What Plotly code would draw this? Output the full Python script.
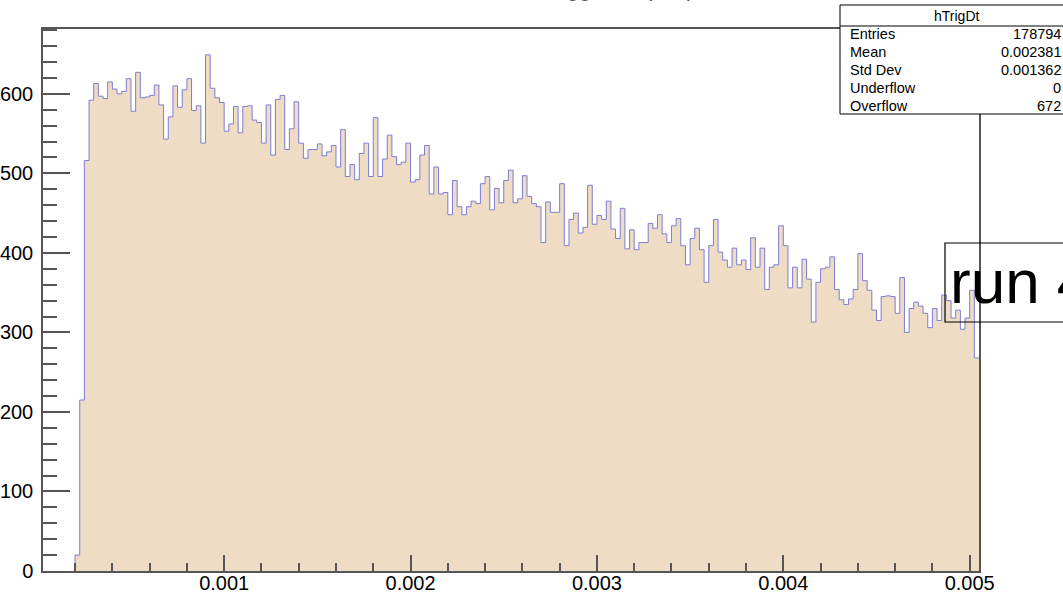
import numpy as np
import plotly.graph_objects as go

# ---- data (visible bin contents) ----
bin_start = 0.0002
bin_width = 0.000025
counts = [
    20, 215, 516, 592, 613, 597, 594, 615, 606, 600,
    603, 619, 578, 627, 595, 596, 598, 611, 586, 543,
    571, 610, 583, 605, 619, 579, 585, 538, 649, 607,
    595, 589, 553, 562, 584, 551, 584, 585, 567, 564,
    538, 586, 523, 593, 598, 530, 556, 590, 538, 519,
    530, 530, 537, 522, 527, 535, 508, 555, 496, 511,
    492, 525, 538, 496, 570, 496, 518, 548, 521, 511,
    514, 538, 489, 492, 523, 535, 474, 508, 474, 476,
    448, 491, 458, 448, 458, 465, 462, 487, 496, 454,
    481, 463, 491, 504, 463, 468, 497, 471, 462, 458,
    413, 464, 451, 451, 487, 409, 442, 450, 425, 432,
    485, 436, 447, 442, 465, 430, 418, 456, 405, 429,
    404, 413, 413, 437, 431, 448, 424, 413, 434, 443,
    409, 385, 418, 431, 404, 363, 409, 442, 401, 391,
    382, 406, 385, 391, 379, 419, 382, 406, 354, 382,
    385, 434, 409, 356, 382, 356, 392, 367, 313, 363,
    380, 382, 395, 354, 341, 335, 342, 354, 399, 365,
    353, 328, 315, 345, 346, 345, 324, 369, 300, 330,
    338, 333, 324, 306, 330, 315, 347, 340, 318, 328,
    304, 318, 353, 268,
]

x_tick_vals = [0.001, 0.002, 0.003, 0.004, 0.005]
x_tick_text = ["0.001", "0.002", "0.003", "0.004", "0.005"]
y_tick_vals = [0, 100, 200, 300, 400, 500, 600]
y_tick_text = ["0", "100", "200", "300", "400", "500", "600"]

stats_title = "hTrigDt"
stats_labels = ["Entries", "Mean", "Std Dev", "Underflow", "Overflow"]
stats_values = ["178794", "0.002381", "0.001362", "0", "672"]
run_label = "run 4"
hist_title = "Trigger Dt (sec)"

# ---- layout geometry (page pixels) ----
W, H = 1063, 597
L, R, T, B = 43, 84, 29, 26
PW, PH = W - L - R, H - T - B


def px(x):
    return (x - L) / PW


def py(y):
    return (H - B - y) / PH


edges = bin_start + bin_width * np.arange(len(counts) + 1)
xs = np.concatenate([[edges[0]], edges])
ys = np.concatenate([[0], counts, [counts[-1]]])

FILL = "#EEDDC4"
LINE = "#7D7DD6"
AX = "#555555"
FONT = "Liberation Sans, Arial, Helvetica, sans-serif"

fig = go.Figure()
fig.add_trace(go.Scatter(
    x=xs, y=ys, mode="lines", line=dict(shape="hv", color=LINE, width=1),
    fill="tozeroy", fillcolor=FILL, hoverinfo="skip", showlegend=False,
))

axis_common = dict(
    showgrid=False, zeroline=False, showline=True, mirror=True,
    linecolor=AX, linewidth=1.5, ticks="inside", tickcolor=AX, tickwidth=1.5,
    tickfont=dict(family=FONT, size=20, color="black"),
)

fig.update_xaxes(
    range=[0.000028, 0.00505], tickmode="array", tickvals=x_tick_vals,
    ticktext=x_tick_text, ticklen=16, ticklabelstandoff=-7,
    minor=dict(ticks="inside", dtick=0.0002, tick0=0, ticklen=8,
               tickcolor=AX, tickwidth=1.5),
    **axis_common,
)
fig.update_yaxes(
    range=[0, 681.5], tickmode="array", tickvals=y_tick_vals,
    ticktext=y_tick_text, ticklen=27, ticklabelstandoff=4,
    minor=dict(ticks="inside", dtick=20, tick0=0, ticklen=14,
               tickcolor=AX, tickwidth=1.5),
    **axis_common,
)

shapes = []
annotations = []

# stats box
sx0, sx1, sy0, sy1 = 840, 1075, 5, 114
shapes.append(dict(type="rect", xref="paper", yref="paper",
                   x0=px(sx0), x1=px(sx1), y0=py(sy1), y1=py(sy0),
                   line=dict(color="black", width=1), fillcolor="white",
                   layer="above"))
shapes.append(dict(type="line", xref="paper", yref="paper",
                   x0=px(sx0), x1=px(sx1), y0=py(26), y1=py(26),
                   line=dict(color="black", width=1), layer="above"))
annotations.append(dict(text=stats_title, xref="paper", yref="paper",
                        x=px(956), y=py(16), xanchor="center",
                        yanchor="middle", showarrow=False,
                        font=dict(family=FONT, size=14, color="black")))
row_y = [34, 52, 70, 88, 106]
for lab, val, ry in zip(stats_labels, stats_values, row_y):
    annotations.append(dict(text=lab, xref="paper", yref="paper",
                            x=px(848), y=py(ry), xanchor="left",
                            yanchor="middle", showarrow=False,
                            font=dict(family=FONT, size=14.5, color="black")))
    annotations.append(dict(text=val, xref="paper", yref="paper",
                            x=px(1063), y=py(ry), xanchor="right",
                            yanchor="middle", showarrow=False,
                            font=dict(family=FONT, size=14.5, color="black")))

# run label box
shapes.append(dict(type="rect", xref="paper", yref="paper",
                   x0=px(945), x1=px(1090), y0=py(322), y1=py(243),
                   line=dict(color="black", width=1.2),
                   fillcolor="rgba(0,0,0,0)", layer="above"))
annotations.append(dict(text=run_label, xref="paper", yref="paper",
                        x=px(948), y=py(281), xanchor="left",
                        yanchor="middle", showarrow=False,
                        font=dict(family=FONT, size=62, color="black")))

# histogram title (mostly cut off at the top of the canvas)
annotations.append(dict(text=hist_title, xref="paper", yref="paper",
                        x=px(540), y=py(3.5), xanchor="left",
                        yanchor="bottom", showarrow=False,
                        font=dict(family=FONT, size=22, color="#555555")))

fig.update_layout(
    width=W, height=H, margin=dict(l=L, r=R, t=T, b=B, autoexpand=False),
    paper_bgcolor="white", plot_bgcolor="white",
    shapes=shapes, annotations=annotations, showlegend=False,
)

fig.write_html(
    "out.html",
    config={"displayModeBar": False},
    post_script="document.body.style.margin='0';"
                "document.body.style.overflow='hidden';",
)
